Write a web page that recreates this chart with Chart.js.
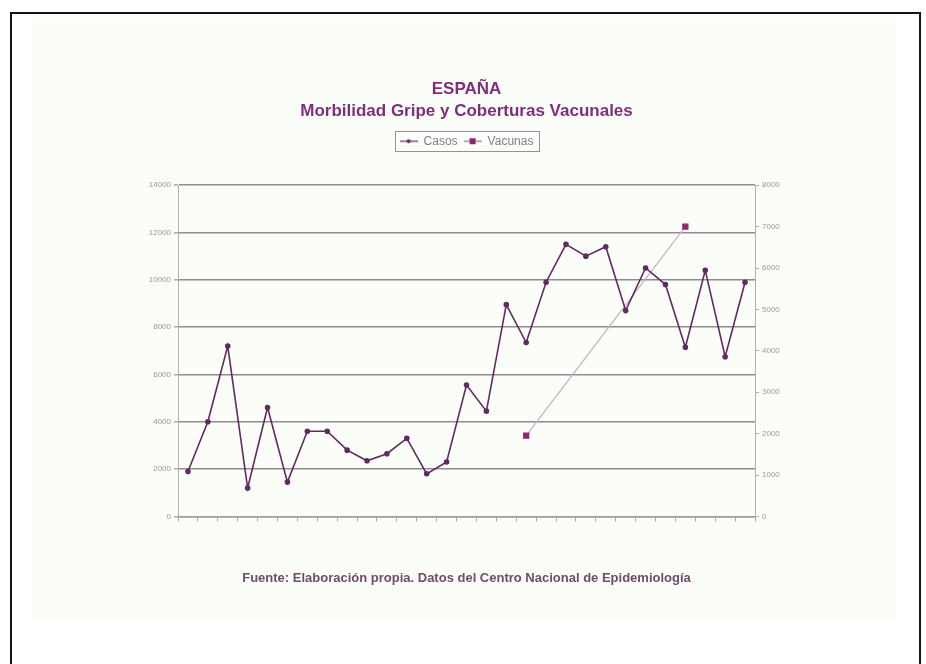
<!DOCTYPE html>
<html>
<head>
<meta charset="utf-8">
<script src="https://cdn.jsdelivr.net/npm/chart.js@4/dist/chart.umd.min.js"></script>
<style>
  html, body { margin: 0; padding: 0; background: #ffffff; }
  #page { position: relative; width: 926px; height: 664px; overflow: hidden; }
  #frame { position: absolute; left: 10px; top: 12px; width: 907px; height: 720px;
           border: 2px solid #151515; border-bottom: none; }
  #sheet { position: absolute; left: 32px; top: 22px; width: 863px; height: 598px;
           background: #fbfdf9; }
  #chart { position: absolute; left: 0; top: 0; }
</style>
</head>
<body>
<div id="page">
  <div id="frame"></div>
  <div id="sheet"></div>
  <canvas id="chart" width="926" height="664"></canvas>
</div>
<script>
// Periods (one per yearly season), not labelled on the axis
const periods = ['1','2','3','4','5','6','7','8','9','10','11','12','13','14','15',
                 '16','17','18','19','20','21','22','23','24','25','26','27','28','29'];

// Influenza cases (left axis)
const casos = [1900, 4000, 7200, 1200, 4600, 1450, 3600, 3600, 2800, 2350,
               2650, 3300, 1800, 2300, 5550, 4450, 8950, 7350, 9900, 11500,
               11000, 11400, 8700, 10500, 9800, 7150, 10400, 6750, 9900];

// Vaccine coverage (right axis), only two seasons reported
const vacunas = [null, null, null, null, null, null, null, null, null, null,
                 null, null, null, null, null, null, null, 1950, null, null,
                 null, null, null, null, null, 7000, null, null, null];

const leftTicks = { min: 0, max: 14000, step: 2000 };
const rightTicks = { min: 0, max: 8000, step: 1000 };

const FONT = "'Liberation Sans', Arial, sans-serif";
const casosColor = '#5e2d5e';
const vacLineColor = '#cdb0c4';
const vacPointColor = '#8a2a6c';
const LEGEND_GAP = 28;

// Small line-with-marker swatches for the legend
function swatch(kind) {
  const c = document.createElement('canvas');
  c.width = 18; c.height = 8;
  const g = c.getContext('2d');
  g.strokeStyle = kind === 'casos' ? casosColor : '#8a7a8a';
  g.lineWidth = 1.2;
  g.beginPath(); g.moveTo(0, 4); g.lineTo(18, 4); g.stroke();
  g.fillStyle = kind === 'casos' ? casosColor : vacPointColor;
  if (kind === 'casos') {
    g.beginPath(); g.arc(9, 4, 2, 0, Math.PI * 2); g.fill();
  } else {
    g.fillRect(6, 1, 6, 6);
  }
  return c;
}
const swatches = [swatch('casos'), swatch('vacunas')];

// Empty layout box that keeps some space between the legend and the plot
const legendGap = {
  id: 'legendGap',
  beforeInit(chart) {
    Chart.layouts.addBox(chart, {
      position: 'top',
      weight: 1,
      fullSize: true,
      options: {},
      width: 0,
      height: 0,
      isHorizontal() { return true; },
      update(maxWidth) { this.width = maxWidth; this.height = LEGEND_GAP; },
      draw() {}
    });
  }
};

// Thin frame around the legend entries
const legendFrame = {
  id: 'legendFrame',
  afterDraw(chart) {
    const boxes = chart.legend && chart.legend.legendHitBoxes;
    if (!boxes || !boxes.length) return;
    let x0 = Infinity, x1 = -Infinity, y0 = Infinity, y1 = -Infinity;
    boxes.forEach(b => {
      x0 = Math.min(x0, b.left); x1 = Math.max(x1, b.left + b.width);
      y0 = Math.min(y0, b.top); y1 = Math.max(y1, b.top + b.height);
    });
    const ctx = chart.ctx;
    ctx.save();
    ctx.strokeStyle = '#9c8c9c';
    ctx.lineWidth = 1;
    ctx.strokeRect(Math.round(x0 - 5) + 0.5, Math.round(y0 - 4) + 0.5,
                   Math.round(x1 - x0 + 10), Math.round(y1 - y0 + 8));
    ctx.restore();
  }
};

new Chart(document.getElementById('chart'), {
  type: 'line',
  data: {
    labels: periods,
    datasets: [
      {
        label: 'Casos',
        data: casos,
        yAxisID: 'y',
        borderColor: casosColor,
        backgroundColor: casosColor,
        borderWidth: 1.6,
        pointRadius: 2,
        pointBackgroundColor: casosColor,
        pointBorderColor: casosColor,
        tension: 0,
        order: 1
      },
      {
        label: 'Vacunas',
        data: vacunas,
        yAxisID: 'y1',
        borderColor: vacLineColor,
        backgroundColor: vacPointColor,
        borderWidth: 1.3,
        pointStyle: 'rect',
        pointRadius: 3.5,
        pointBackgroundColor: vacPointColor,
        pointBorderColor: vacPointColor,
        spanGaps: true,
        tension: 0,
        order: 2
      }
    ]
  },
  options: {
    responsive: false,
    animation: false,
    layout: { padding: { left: 138, right: 131, top: 78, bottom: 78 } },
    plugins: {
      title: {
        display: true,
        text: ['ESPAÑA', 'Morbilidad Gripe y Coberturas Vacunales'],
        color: '#7e2f7a',
        font: { family: FONT, size: 17, weight: 'bold', lineHeight: 1.3 },
        padding: { top: 0, bottom: 7 }
      },
      legend: {
        display: true,
        position: 'top',
        labels: {
          color: '#8a7a8a',
          font: { family: FONT, size: 12 },
          usePointStyle: true,
          pointStyleWidth: 18,
          padding: 6,
          generateLabels(chart) {
            return chart.data.datasets.map((ds, i) => ({
              text: ds.label,
              pointStyle: swatches[i],
              fillStyle: ds.borderColor,
              strokeStyle: ds.borderColor,
              lineWidth: 0,
              hidden: false,
              datasetIndex: i,
              fontColor: '#8a7a8a'
            }));
          }
        }
      },
      subtitle: {
        display: true,
        position: 'bottom',
        text: 'Fuente: Elaboración propia. Datos del Centro Nacional de Epidemiología',
        color: '#6e4c6e',
        font: { family: FONT, size: 13, weight: 'bold' },
        padding: { top: 44, bottom: 0 }
      },
      tooltip: { enabled: false }
    },
    scales: {
      x: {
        offset: true,
        grid: {
          display: true,
          offset: true,
          drawOnChartArea: false,
          drawTicks: true,
          tickLength: 5,
          color: '#a8a8a8'
        },
        border: { display: true, color: '#a0a0a0', width: 1.5 },
        ticks: { display: false },
        afterFit(scale) { scale.height = 10; }
      },
      y: {
        position: 'left',
        min: leftTicks.min,
        max: leftTicks.max,
        ticks: {
          stepSize: leftTicks.step,
          color: '#9a9a9a',
          font: { family: FONT, size: 8 },
          padding: 3,
          callback: v => String(v)
        },
        grid: {
          color: '#958895',
          lineWidth: 1.6,
          tickLength: 4,
          tickColor: '#b0b0b0'
        },
        border: { display: true, color: '#b0b0b0', width: 1 },
        afterFit(scale) { scale.width = 40; }
      },
      y1: {
        position: 'right',
        min: rightTicks.min,
        max: rightTicks.max,
        ticks: {
          stepSize: rightTicks.step,
          color: '#9a9a9a',
          font: { family: FONT, size: 8 },
          padding: 3,
          callback: v => String(v)
        },
        grid: {
          drawOnChartArea: false,
          tickLength: 4,
          tickColor: '#b0b0b0'
        },
        border: { display: true, color: '#b0b0b0', width: 1 },
        afterFit(scale) { scale.width = 40; }
      }
    }
  },
  plugins: [legendGap, legendFrame]
});
</script>
</body>
</html>
